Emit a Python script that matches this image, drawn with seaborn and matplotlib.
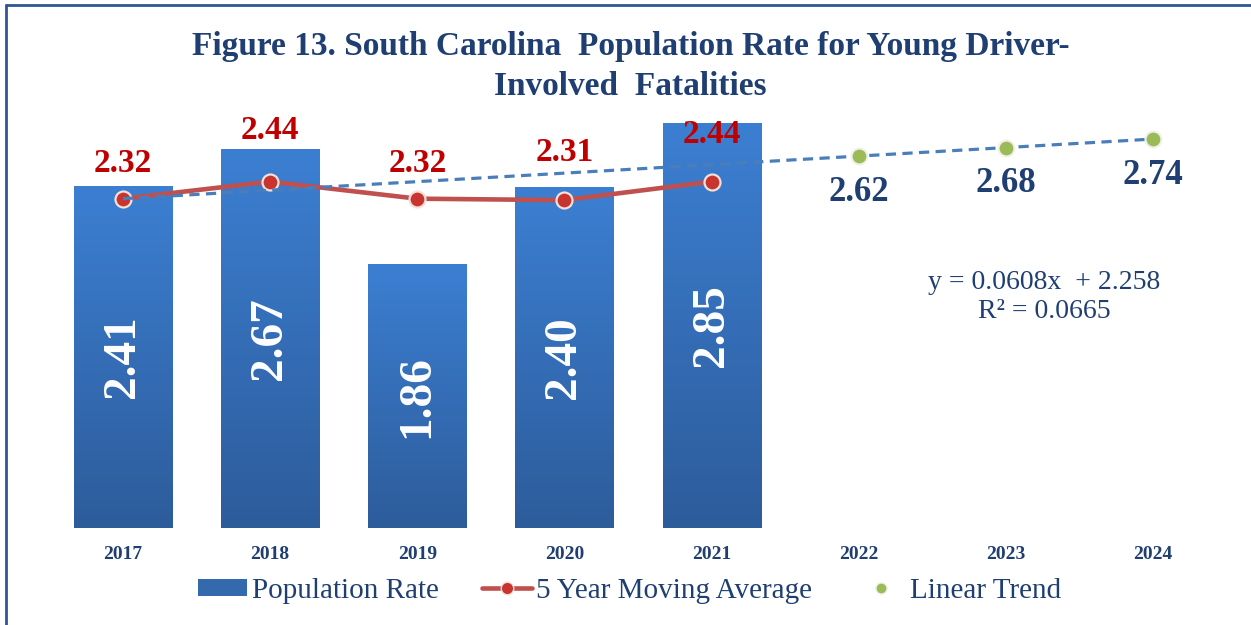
import numpy as np
import pandas as pd
import matplotlib
matplotlib.use("Agg")
import matplotlib.pyplot as plt
import seaborn as sns
from matplotlib.patches import Patch
from matplotlib.lines import Line2D
from matplotlib.colors import LinearSegmentedColormap

# values
years = ["2017", "2018", "2019", "2020", "2021", "2022", "2023", "2024"]
rate_years = ["2017", "2018", "2019", "2020", "2021"]
population_rate = [2.41, 2.67, 1.86, 2.40, 2.85]
moving_avg = [2.32, 2.44, 2.32, 2.31, 2.44]
trend_line = [2.32, 2.38, 2.44, 2.50, 2.56, 2.62, 2.68, 2.74]
trend_years = ["2022", "2023", "2024"]
trend_points = [2.62, 2.68, 2.74]
equation = "y = 0.0608x  + 2.258\nR\u00b2 = 0.0665"
title = "Figure 13. South Carolina  Population Rate for Young Driver-\nInvolved  Fatalities"

navy = "#1F3F73"
bar_top = "#3C7FD2"
bar_bottom = "#2D5C9B"
red_line = "#C0504D"
red_text = "#C00000"
trend_blue = "#4A7EBB"
green = "#9BBB59"

sns.set_theme(style="white")
plt.rcParams["font.family"] = ["Liberation Serif", "DejaVu Serif"]

fig = plt.figure(figsize=(12.51, 6.25), dpi=100)
ax = fig.add_axes([0.0395, 0.155, 0.941, 0.6816])

df = pd.DataFrame({"year": rate_years, "rate": population_rate})
sns.barplot(data=df, x="year", y="rate", order=years, width=0.667,
            color=bar_bottom, saturation=1, ax=ax, zorder=1)

# vertical gradient on each bar
cmap = LinearSegmentedColormap.from_list("bar", [bar_bottom, bar_top])
grad = np.linspace(0, 1, 256).reshape(-1, 1)
for p in list(ax.patches):
    x0, y0 = p.get_x(), p.get_y()
    w, h = p.get_width(), p.get_height()
    if not np.isfinite(h) or h == 0:
        continue
    im = ax.imshow(grad, cmap=cmap, origin="lower", aspect="auto",
                   extent=(x0, x0 + w, y0, y0 + h), zorder=1.5)
    im.set_clip_path(p)

ax.set_xlim(-0.5, len(years) - 0.5)
ax.set_ylim(0, 3.0)

pos = {y: i for i, y in enumerate(years)}
rate_x = [pos[y] for y in rate_years]

# bar value labels
for xi, v in zip(rate_x, population_rate):
    ax.text(xi, v / 2, f"{v:.2f}", rotation=90, ha="center", va="center",
            color="white", fontsize=34, fontweight="bold", zorder=5)

# 5 year moving average
sns.lineplot(x=rate_x, y=moving_avg, color=red_line, lw=3.3, marker="o",
             markersize=11.5, markerfacecolor="#C8342E", markeredgecolor="#F3E0DA",
             markeredgewidth=1.6, ax=ax, zorder=3)

# linear trend
ax.plot(range(len(years)), trend_line, color=trend_blue, lw=2.3,
        dashes=(3.2, 2.0), zorder=4)
sns.scatterplot(x=[pos[y] for y in trend_years], y=trend_points, s=130,
                color=green, edgecolor="#F0F0E8", linewidth=1.5, ax=ax, zorder=4.5)

ma_dy = [25, 37, 25, 34, 34]
for xi, v, dy in zip(rate_x, moving_avg, ma_dy):
    ax.annotate(f"{v:.2f}", (xi, v), xytext=(0, dy), textcoords="offset points",
                ha="center", va="center", color=red_text, fontsize=24,
                fontweight="bold", zorder=6)

for yr, v in zip(trend_years, trend_points):
    ax.annotate(f"{v:.2f}", (pos[yr], v), xytext=(0, -26), textcoords="offset points",
                ha="center", va="center", color=navy, fontsize=25,
                fontweight="bold", zorder=6)

ax.text(6.26, 1.63, equation, ha="center", va="center", color=navy,
        fontsize=20, linespacing=1.2)

ax.set_xlabel("")
ax.set_ylabel("")
ax.set_yticks([])
ax.set_xticks(range(len(years)))
ax.set_xticklabels(years, fontsize=14, fontweight="bold", color=navy)
ax.tick_params(axis="x", length=0, pad=13)
sns.despine(ax=ax, left=True, bottom=True)

fig.text(0.504, 0.894, title, ha="center", va="center", color=navy,
         fontsize=24, fontweight="bold", linespacing=1.36)

handles = [
    Patch(facecolor="#3569AD", edgecolor="none"),
    Line2D([], [], color=red_line, lw=3.3, marker="o", markersize=9,
           markerfacecolor="#C8342E", markeredgecolor="#F3E0DA"),
    Line2D([], [], color=green, lw=0, marker="o", markersize=8,
           markeredgecolor="#F0F0E8"),
]
fig.legend(handles, ["Population Rate", "5 Year Moving Average", "Linear Trend"],
           loc="center", bbox_to_anchor=(0.503, 0.055), ncol=3, frameon=False,
           fontsize=21, handlelength=1.7, handleheight=0.55, handletextpad=0.15,
           columnspacing=1.5, labelcolor=navy)

# frame (only left and top edges are visible in the original)
fig.add_artist(Line2D([0.0045, 0.0045], [0, 0.992], transform=fig.transFigure,
                      color="#2F5597", lw=2))
fig.add_artist(Line2D([0.0045, 1], [0.992, 0.992], transform=fig.transFigure,
                      color="#2F5597", lw=2))

fig.savefig("out.png", dpi=100)
